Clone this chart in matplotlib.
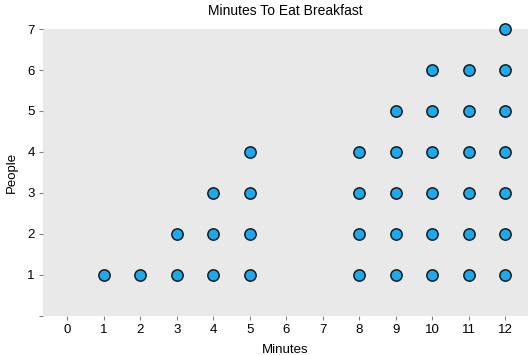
import matplotlib.pyplot as plt

plt.rcParams['font.family'] = ['Liberation Sans', 'DejaVu Sans']

minutes = [0, 1, 2, 3, 4, 5, 6, 7, 8, 9, 10, 11, 12]
people = [0, 1, 1, 2, 3, 4, 0, 0, 4, 5, 6, 6, 7]

xs, ys = [], []
for m, n in zip(minutes, people):
    for k in range(1, n + 1):
        xs.append(m)
        ys.append(k)

fig = plt.figure(figsize=(5.32, 3.55), dpi=100)
ax = fig.add_axes([0.081, 0.111, 0.911, 0.807])
ax.set_facecolor('#e9e9e9')
ax.scatter(xs, ys, s=66, c='#1aaaf0', edgecolors='#1a1a1a', linewidths=1.1,
           zorder=3, clip_on=False)

ax.set_xlim(-0.66, 12.62)
ax.set_ylim(0, 7)
ax.set_xticks(minutes)
ax.set_xticklabels([str(m) for m in minutes])
ax.set_yticks(range(0, 8))
ax.set_yticklabels([''] + [str(i) for i in range(1, 8)])
for s in ax.spines.values():
    s.set_visible(False)
ax.tick_params(length=3, width=0.8, color='#808080', labelsize=9.5, pad=3)

ax.set_title('Minutes To Eat Breakfast', fontsize=10, pad=10)
ax.set_xlabel('Minutes', fontsize=9.5, labelpad=6)
ax.set_ylabel('People', fontsize=9.5, labelpad=7)

fig.savefig('out.png', dpi=100)
